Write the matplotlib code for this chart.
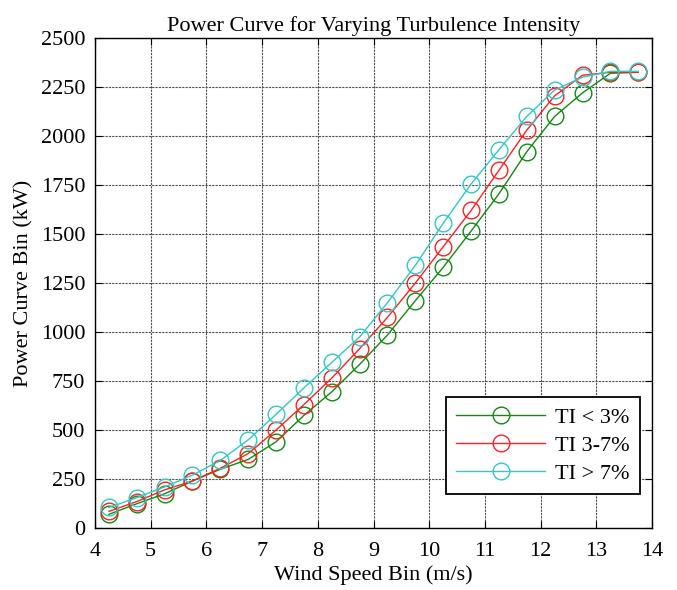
import matplotlib
matplotlib.use("Agg")
import matplotlib.pyplot as plt

plt.rcParams['font.family'] = ['Liberation Serif', 'DejaVu Serif']
plt.rcParams['mathtext.fontset'] = 'stix'

wind_speed = [4.25, 4.75, 5.25, 5.75, 6.25, 6.75, 7.25, 7.75, 8.25, 8.75,
              9.25, 9.75, 10.25, 10.75, 11.25, 11.75, 12.25, 12.75, 13.25, 13.75]
ti_low = [70, 124, 175, 240, 300, 350, 440, 575, 695, 835,
          985, 1160, 1330, 1515, 1705, 1920, 2100, 2220, 2320, 2325]
ti_mid = [85, 135, 195, 240, 305, 380, 500, 630, 765, 915,
          1075, 1250, 1435, 1620, 1825, 2030, 2205, 2310, 2325, 2325]
ti_high = [105, 155, 210, 270, 345, 450, 580, 715, 845, 975,
           1150, 1340, 1555, 1755, 1930, 2100, 2235, 2300, 2330, 2330]
labels = ['TI < 3%', 'TI 3-7%', 'TI > 7%']
colors = ['#108a10', '#ff2020', '#30c8c8']

fig = plt.figure(figsize=(6.77, 5.90), dpi=100)
ax = fig.add_axes([0.1403, 0.105, 0.823, 0.8306])

for ys, lab, c in zip([ti_low, ti_mid, ti_high], labels, colors):
    ax.plot(wind_speed, ys, '-o', color=c, lw=1.0, markersize=12,
            markerfacecolor='none', markeredgecolor=c, markeredgewidth=1.0, label=lab)

ax.set_xlim(4, 14)
ax.set_ylim(0, 2500)
ax.set_xticks(range(4, 15))
ax.set_yticks(range(0, 2501, 250))
ax.grid(True, color='0.3', linestyle=(0, (2, 1)), linewidth=0.8)
ax.set_axisbelow(True)
ax.tick_params(axis='both', direction='in', top=True, right=True, labelsize=16, length=5)
ax.tick_params(axis='x', pad=10)
ax.tick_params(axis='y', pad=7)
for sp in ax.spines.values():
    sp.set_linewidth(1.0)
ax.set_title('Power Curve for Varying Turbulence Intensity', fontsize=16, pad=5)
ax.set_xlabel('Wind Speed Bin (m/s)', fontsize=16, labelpad=3)
ax.set_ylabel('Power Curve Bin (kW)', fontsize=16, labelpad=5)

leg = ax.legend(loc='lower right', fontsize=16, frameon=True, fancybox=False,
                edgecolor='black', framealpha=1, borderpad=0.45, labelspacing=0.35,
                handlelength=4.0, handletextpad=0.45, borderaxespad=0,
                bbox_to_anchor=(0.978, 0.069))
leg.get_frame().set_linewidth(1.3)

fig.savefig('out.png', dpi=100)
